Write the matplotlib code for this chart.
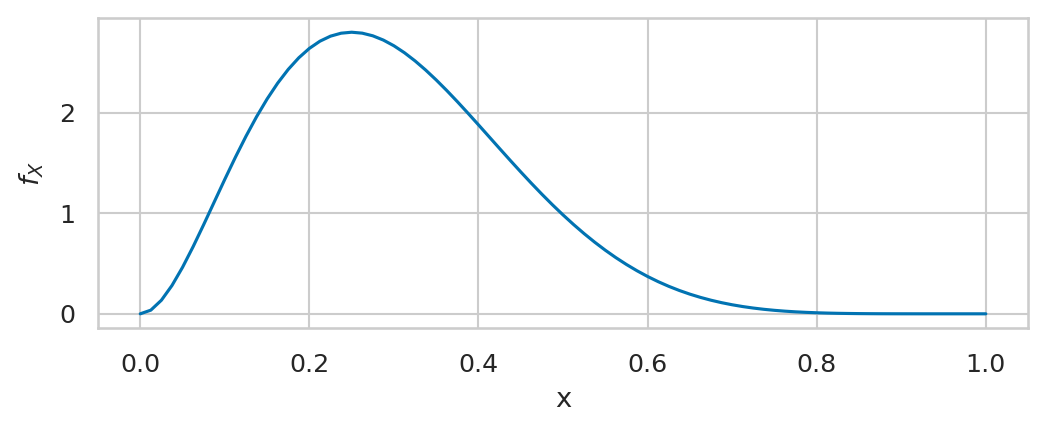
import matplotlib
matplotlib.use("Agg")
import matplotlib.pyplot as plt
import seaborn as sns

# density values, step 0.0125
x = [0.0, 0.0125, 0.025, 0.0375, 0.05, 0.0625, 0.075, 0.0875, 0.1, 0.1125,
     0.125, 0.1375, 0.15, 0.1625, 0.175, 0.1875, 0.2, 0.2125, 0.225, 0.2375,
     0.25, 0.2625, 0.275, 0.2875, 0.3, 0.3125, 0.325, 0.3375, 0.35, 0.3625,
     0.375, 0.3875, 0.4, 0.4125, 0.425, 0.4375, 0.45, 0.4625, 0.475, 0.4875,
     0.5, 0.5125, 0.525, 0.5375, 0.55, 0.5625, 0.575, 0.5875, 0.6, 0.6125,
     0.625, 0.6375, 0.65, 0.6625, 0.675, 0.6875, 0.7, 0.7125, 0.725, 0.7375,
     0.75, 0.7625, 0.775, 0.7875, 0.8, 0.8125, 0.825, 0.8375, 0.85, 0.8625,
     0.875, 0.8875, 0.9, 0.9125, 0.925, 0.95, 0.975, 1.0]
fx = [0.0, 0.0365, 0.1353, 0.2818, 0.4631, 0.6683, 0.8879, 1.1138, 1.3392, 1.5585,
      1.7671, 1.9614, 2.1384, 2.2962, 2.4333, 2.5489, 2.6424, 2.7141, 2.7642, 2.7936,
      2.8033, 2.7940, 2.7676, 2.7251, 2.6683, 2.5986, 2.5176, 2.4270, 2.3282, 2.2228,
      2.1123, 1.9979, 1.8812, 1.7632, 1.6451, 1.5279, 1.4126, 1.2999, 1.1905, 1.0852,
      0.9844, 0.8885, 0.7978, 0.7126, 0.6330, 0.5591, 0.4910, 0.4285, 0.3716, 0.3201,
      0.2738, 0.2324, 0.1957, 0.1635, 0.1353, 0.1109, 0.0900, 0.0722, 0.0573, 0.0448,
      0.0346, 0.0263, 0.0196, 0.0144, 0.0103, 0.0072, 0.0049, 0.0033, 0.0021, 0.0013,
      0.0007, 0.0004, 0.0002, 0.0001, 0.0, 0.0, 0.0, 0.0]

sns.set_theme(style="whitegrid", palette="colorblind", font_scale=1.1)

fig, ax = plt.subplots(figsize=(1048/150, 432/150), dpi=150)
fig.subplots_adjust(left=0.0935, right=0.981, top=0.958, bottom=0.241)
ax.plot(x, fx)
ax.set_xlabel("x", labelpad=5)
ax.set_ylabel("$f_X$", labelpad=6)
ax.set_yticks([0, 1, 2])
ax.tick_params(axis="x", pad=6)
ax.tick_params(axis="y", pad=5)
fig.savefig("out.png", dpi=150)
